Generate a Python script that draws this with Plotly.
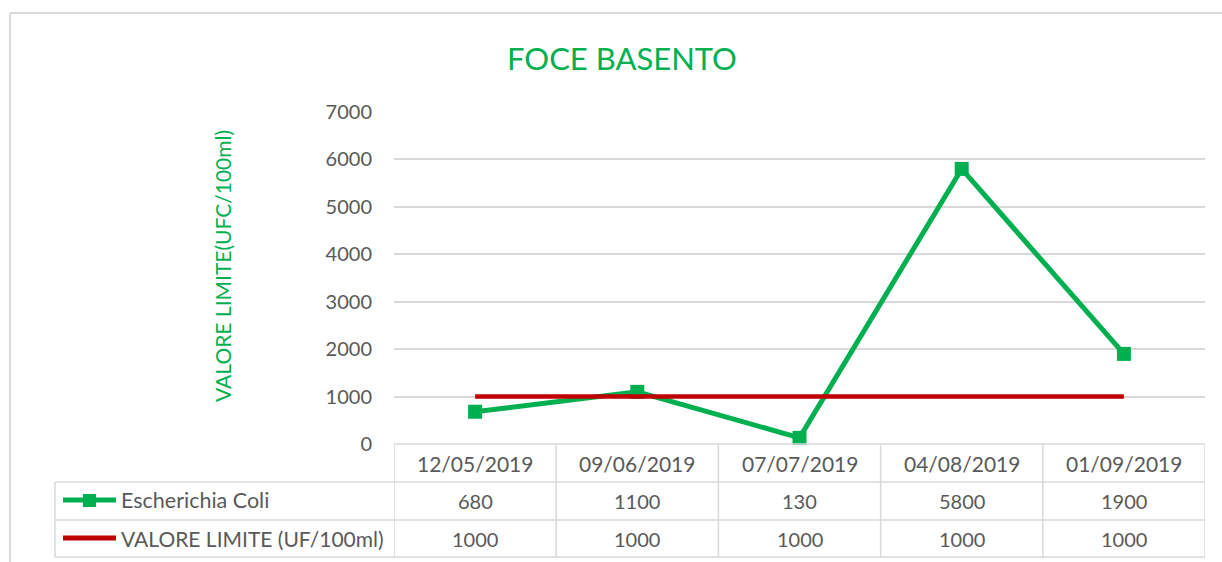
import plotly.graph_objects as go

# ---- data ----
dates = ["12/05/2019", "09/06/2019", "07/07/2019", "04/08/2019", "01/09/2019"]
ecoli = [680, 1100, 130, 5800, 1900]
limite = [1000, 1000, 1000, 1000, 1000]
series_names = ["Escherichia Coli", "VALORE LIMITE (UF/100ml)"]
title_text = "FOCE BASENTO"
ytitle_text = "VALORE LIMITE(UFC/100ml)"
yticks = [0, 1000, 2000, 3000, 4000, 5000, 6000, 7000]

GREEN = "#00B050"
RED = "#C00000"
GRID = "#D9D9D9"
TXT = "#595959"
FONT = "Lato"

W, H = 1222, 562
L, R, T, B = 394, 17, 112, 118
PW = W - L - R
PH = H - T - B


def px(xp):
    return (xp - L) / PW


def py(yp):
    return (H - B - yp) / PH


fig = go.Figure()
fig.add_trace(go.Scatter(
    x=dates, y=ecoli, name=series_names[0], mode="lines+markers",
    line=dict(color=GREEN, width=5),
    marker=dict(symbol="square", size=14, color=GREEN),
    showlegend=False, cliponaxis=False))
fig.add_trace(go.Scatter(
    x=dates, y=limite, name=series_names[1], mode="lines",
    line=dict(color=RED, width=4.5),
    showlegend=False, cliponaxis=False))

shapes = []
ann = []

# outer chart border
shapes.append(dict(type="line", xref="paper", yref="paper",
                   x0=px(10), x1=px(1222), y0=py(13), y1=py(13),
                   line=dict(color=GRID, width=2)))
shapes.append(dict(type="line", xref="paper", yref="paper",
                   x0=px(10), x1=px(10), y0=py(13), y1=py(562),
                   line=dict(color=GRID, width=2)))

# data table grid
row_y = [444, 482, 520, 557]
for i, yp in enumerate(row_y):
    x0 = L if i == 0 else 55
    shapes.append(dict(type="line", xref="paper", yref="paper",
                       x0=px(x0), x1=1, y0=py(yp), y1=py(yp),
                       line=dict(color=GRID, width=1.5)))
for k in range(len(dates) + 1):
    shapes.append(dict(type="line", xref="x", yref="paper",
                       x0=k - 0.5, x1=k - 0.5, y0=py(444), y1=py(557),
                       line=dict(color=GRID, width=1.5)))
shapes.append(dict(type="line", xref="paper", yref="paper",
                   x0=px(55), x1=px(55), y0=py(482), y1=py(557),
                   line=dict(color=GRID, width=1.5)))

# legend keys in table
shapes.append(dict(type="line", xref="paper", yref="paper",
                   x0=px(63), x1=px(116), y0=py(500), y1=py(500),
                   line=dict(color=GREEN, width=5)))
shapes.append(dict(type="rect", xref="paper", yref="paper",
                   x0=px(83), x1=px(96), y0=py(494), y1=py(507),
                   fillcolor=GREEN, line=dict(width=0)))
shapes.append(dict(type="line", xref="paper", yref="paper",
                   x0=px(63), x1=px(116), y0=py(538), y1=py(538),
                   line=dict(color=RED, width=5)))

ann.append(dict(text=series_names[0], xref="paper", yref="paper",
                x=px(119), y=py(500), xanchor="left", yanchor="middle",
                showarrow=False, font=dict(family=FONT, size=21.5, color=TXT)))
ann.append(dict(text=series_names[1], xref="paper", yref="paper",
                x=px(119), y=py(538), xanchor="left", yanchor="middle",
                showarrow=False, font=dict(family=FONT, size=21, color=TXT)))

for d, v1, v2 in zip(dates, ecoli, limite):
    ann.append(dict(text=d, xref="x", yref="paper", x=d, y=py(463),
                    xanchor="center", yanchor="middle", showarrow=False,
                    font=dict(family=FONT, size=21, color=TXT)))
    ann.append(dict(text=str(v1), xref="x", yref="paper", x=d, y=py(501),
                    xanchor="center", yanchor="middle", showarrow=False,
                    font=dict(family=FONT, size=20, color=TXT)))
    ann.append(dict(text=str(v2), xref="x", yref="paper", x=d, y=py(539),
                    xanchor="center", yanchor="middle", showarrow=False,
                    font=dict(family=FONT, size=20, color=TXT)))

ann.append(dict(text=title_text, xref="paper", yref="paper",
                x=px(622), y=py(58), xanchor="center", yanchor="middle",
                showarrow=False, font=dict(family=FONT, size=31, color=GREEN)))
ann.append(dict(text=ytitle_text, xref="paper", yref="paper",
                x=px(222), y=py(266), xanchor="center", yanchor="middle",
                textangle=-90, showarrow=False,
                font=dict(family=FONT, size=21, color=GREEN)))

fig.update_layout(
    width=W, height=H,
    margin=dict(l=L, r=R, t=T, b=B, pad=0),
    paper_bgcolor="white", plot_bgcolor="white",
    shapes=shapes, annotations=ann,
    xaxis=dict(type="category", range=[-0.5, len(dates) - 0.5],
               showticklabels=False, showgrid=False, zeroline=False,
               showline=False, ticks=""),
    yaxis=dict(range=[0, 7000], tickvals=yticks, showgrid=True,
               gridcolor=GRID, gridwidth=1.5, zeroline=False, showline=False,
               ticks="", ticklabelstandoff=21,
               tickfont=dict(family=FONT, size=20, color=TXT)),
)

fig.write_html("out.html", config={"displayModeBar": False},
               post_script="document.body.style.margin='0';document.body.style.overflow='hidden';")
